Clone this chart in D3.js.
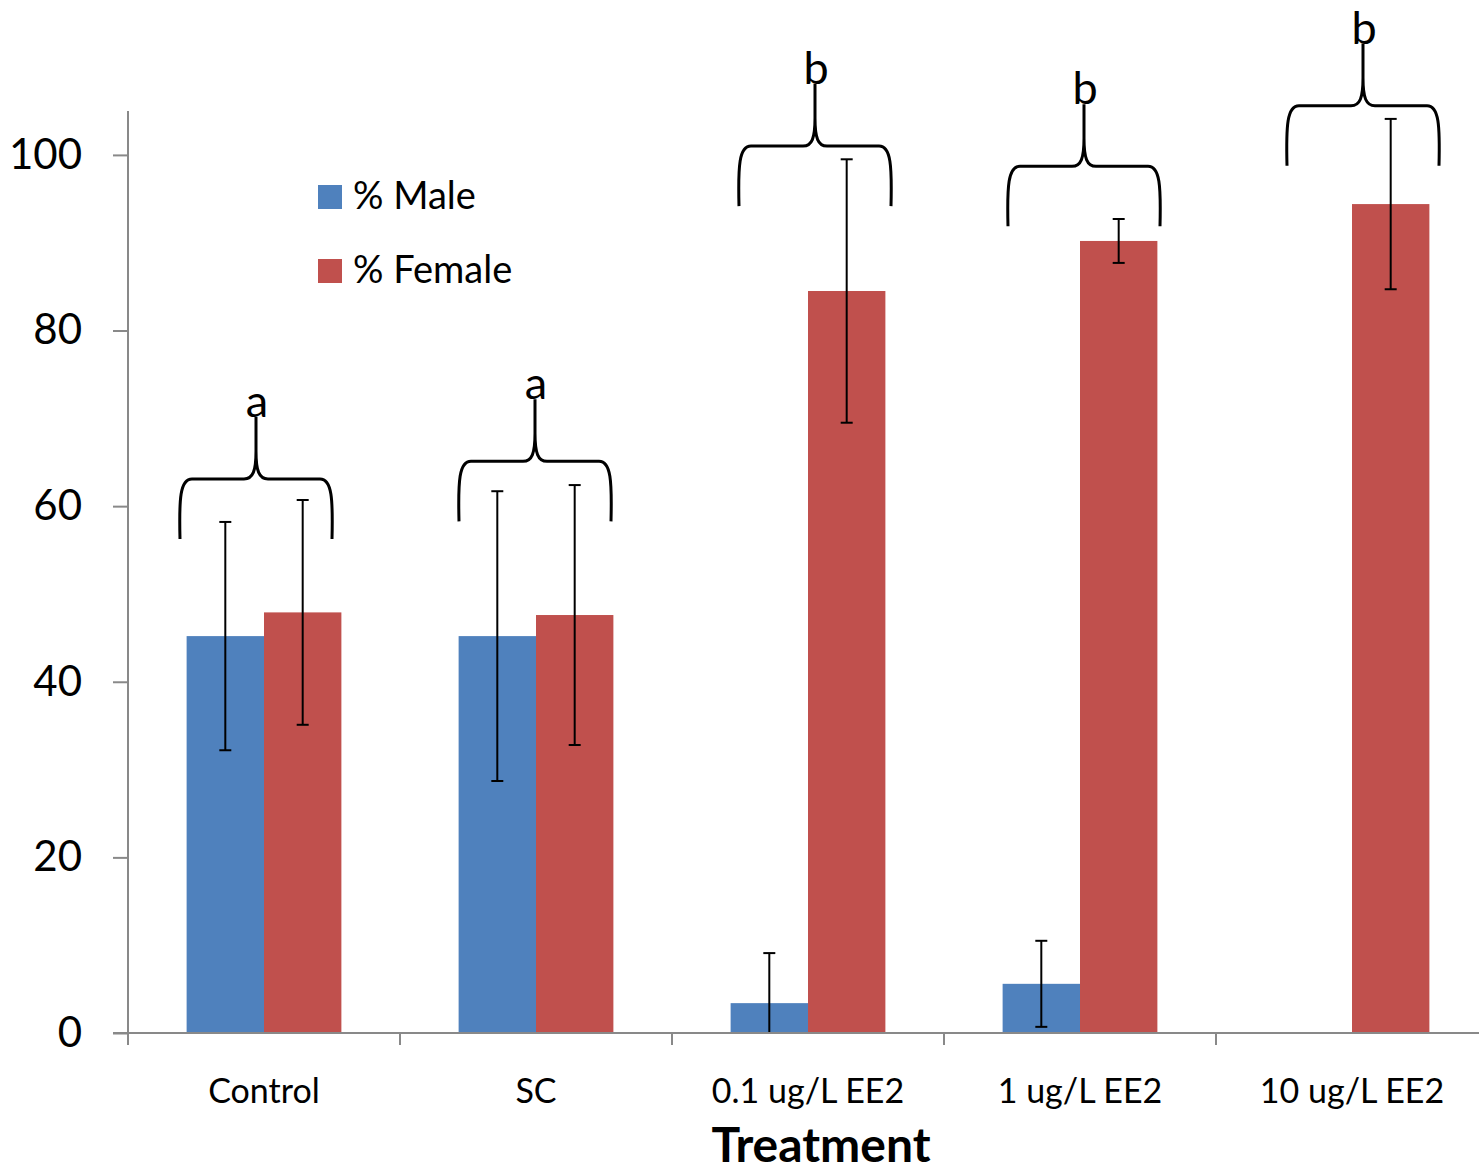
<!DOCTYPE html>
<html>
<head>
<meta charset="utf-8">
<script src="https://cdn.jsdelivr.net/npm/d3@7"></script>
<style>
  body { margin: 0; background: #fff; }
  text { font-family: Lato, "Open Sans", sans-serif; fill: #000; }
</style>
</head>
<body>
<div id="chart"></div>
<script>
// data
var categories = ["Control", "SC", "0.1 ug/L EE2", "1 ug/L EE2", "10 ug/L EE2"];
var seriesNames = ["% Male", "% Female"];
var maleValues = [45.2, 45.2, 3.4, 5.6, 0];
var maleErrors = [13.0, 16.5, 5.7, 4.9, 0];
var femaleValues = [47.9, 47.6, 84.5, 90.2, 94.4];
var femaleErrors = [12.8, 14.8, 15.0, 2.5, 9.7];
var yTicks = [0, 20, 40, 60, 80, 100];
var groupLetters = ["a", "a", "b", "b", "b"];
var braceLevels = [63.1, 65.1, 101.0, 98.7, 105.6];

var colors = ["#4F81BD", "#C0504D"];
var axisColor = "#898989";

var svgWidth = 1479;
var svgHeight = 1173;

var svg = d3.select("#chart")
  .append("svg")
  .attr("width", svgWidth)
  .attr("height", svgHeight);

var x0 = d3.scaleBand()
  .domain(categories)
  .range([128, 1488])
  .padding(0);

var bw = x0.bandwidth();
var gap = bw * 0.431;

var x1 = d3.scaleBand()
  .domain(seriesNames)
  .range([gap / 2, bw - gap / 2])
  .padding(0);

var y = d3.scaleLinear()
  .domain([0, 105])
  .range([1033, 111]);

// table built from the arrays
var rows = categories.map(function(c, i) {
  return {
    cat: c,
    bars: [
      { name: seriesNames[0], value: maleValues[i], err: maleErrors[i], color: colors[0] },
      { name: seriesNames[1], value: femaleValues[i], err: femaleErrors[i], color: colors[1] }
    ]
  };
});

// bars
var groups = svg.selectAll("g.group")
  .data(rows)
  .enter()
  .append("g")
  .attr("class", "group")
  .attr("transform", function(d) { return "translate(" + x0(d.cat) + ",0)"; });

groups.selectAll("rect")
  .data(function(d) { return d.bars.filter(function(b) { return b.value > 0; }); })
  .enter()
  .append("rect")
  .attr("x", function(d) { return x1(d.name); })
  .attr("width", x1.bandwidth())
  .attr("y", function(d) { return y(d.value); })
  .attr("height", function(d) { return y(0) - y(d.value); })
  .attr("fill", function(d) { return d.color; });

// axes
var yAxis = svg.append("g")
  .attr("transform", "translate(128,0)")
  .call(d3.axisLeft(y).tickValues(yTicks).tickSize(15).tickPadding(31));

var xAxis = svg.append("g")
  .attr("transform", "translate(0," + y(0) + ")")
  .call(d3.axisBottom(x0).tickSize(0).tickPadding(46));

// boundary ticks between categories
var bounds = categories.map(function(c) { return x0(c); });
svg.append("g")
  .selectAll("line")
  .data(bounds)
  .enter()
  .append("line")
  .attr("x1", function(d) { return d; })
  .attr("x2", function(d) { return d; })
  .attr("y1", y(0))
  .attr("y2", y(0) + 12)
  .attr("stroke", axisColor)
  .attr("stroke-width", 2);

[yAxis, xAxis].forEach(function(ax) {
  ax.selectAll(".domain").attr("stroke", axisColor).attr("stroke-width", 2);
  ax.selectAll(".tick line").attr("stroke", axisColor).attr("stroke-width", 2);
});
yAxis.select(".domain").attr("d", "M0," + y(105) + "V" + (y(0) + 12));
xAxis.select(".domain").attr("d", "M113,0H1488");

yAxis.selectAll(".tick text")
  .style("font-size", "42px")
  .attr("fill", "#000");

xAxis.selectAll(".tick text")
  .style("font-size", "34px")
  .attr("fill", "#000");

// error bars
groups.each(function(d) {
  var g = d3.select(this);
  d.bars.forEach(function(b) {
    if (b.err <= 0) return;
    var cx = x1(b.name) + x1.bandwidth() / 2;
    var lo = Math.max(0, b.value - b.err);
    var hi = b.value + b.err;
    g.append("line")
      .attr("x1", cx).attr("x2", cx)
      .attr("y1", y(lo)).attr("y2", y(hi))
      .attr("stroke", "#000").attr("stroke-width", 2);
    g.append("line")
      .attr("x1", cx - 6).attr("x2", cx + 6)
      .attr("y1", y(hi)).attr("y2", y(hi))
      .attr("stroke", "#000").attr("stroke-width", 2);
    if (b.value - b.err > 0) {
      g.append("line")
        .attr("x1", cx - 6).attr("x2", cx + 6)
        .attr("y1", y(lo)).attr("y2", y(lo))
        .attr("stroke", "#000").attr("stroke-width", 2);
    }
  });
});

// curly braces with significance letters
function bracePath(c, half, yh) {
  var x0b = c - half, x1b = c + half;
  var yb = yh + 60, yt = yh - 62;
  return "M" + x0b + "," + yb +
    "C" + (x0b - 1) + "," + (yh + 20) + " " + x0b + "," + yh + " " + (x0b + 12) + "," + yh +
    "L" + (c - 12) + "," + yh +
    "C" + (c - 3) + "," + yh + " " + c + "," + (yh - 8) + " " + c + "," + (yh - 28) +
    "L" + c + "," + yt +
    "M" + x1b + "," + yb +
    "C" + (x1b + 1) + "," + (yh + 20) + " " + x1b + "," + yh + " " + (x1b - 12) + "," + yh +
    "L" + (c + 12) + "," + yh +
    "C" + (c + 3) + "," + yh + " " + c + "," + (yh - 8) + " " + c + "," + (yh - 28);
}

var braceShift = [-8, -1, 7, 4, 11];
categories.forEach(function(c, i) {
  var cx = x0(c) + bw / 2 + braceShift[i];
  var yh = y(braceLevels[i]);
  svg.append("path")
    .attr("d", bracePath(cx, 76, yh))
    .attr("fill", "none")
    .attr("stroke", "#000")
    .attr("stroke-width", 3);
  svg.append("text")
    .attr("x", cx + 1)
    .attr("y", yh - 62)
    .attr("text-anchor", "middle")
    .style("font-size", "45px")
    .text(groupLetters[i]);
});

// legend
var legend = svg.append("g").attr("transform", "translate(318,185)");
seriesNames.forEach(function(s, i) {
  legend.append("rect")
    .attr("x", 0).attr("y", i * 74)
    .attr("width", 24).attr("height", 24)
    .attr("fill", colors[i]);
  legend.append("text")
    .attr("x", 35).attr("y", i * 74 + 24)
    .style("font-size", "38px")
    .text(s);
});

// axis title
svg.append("text")
  .attr("x", 821)
  .attr("y", 1162)
  .attr("text-anchor", "middle")
  .style("font-size", "48px")
  .style("font-weight", "bold")
  .text("Treatment");
</script>
</body>
</html>
